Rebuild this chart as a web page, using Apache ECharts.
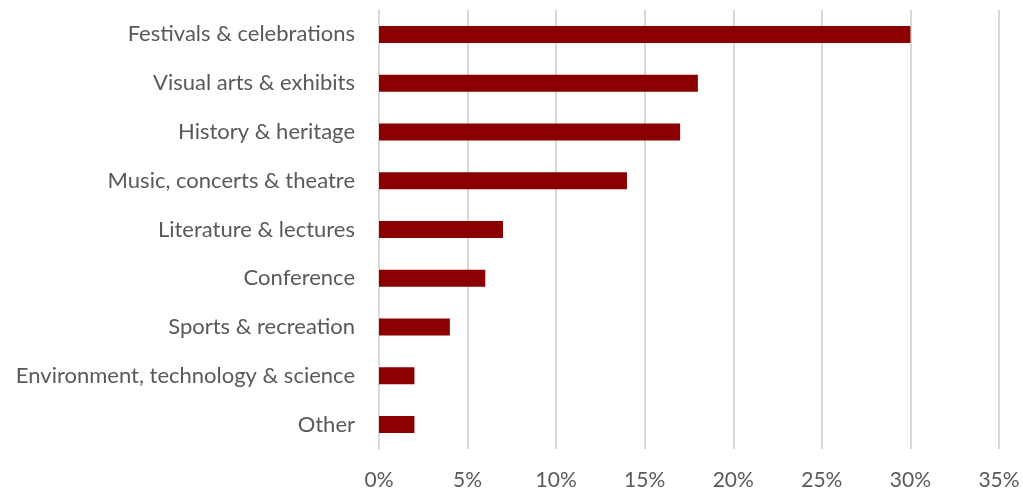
<!DOCTYPE html>
<html><head><meta charset="utf-8">
<script src="https://cdn.jsdelivr.net/npm/echarts@6/dist/echarts.min.js"></script>
<style>html,body{margin:0;padding:0;background:#fff}#c{width:1023px;height:491px}</style>
</head><body><div id="c"></div>
<script>
const categories = ["Festivals & celebrations","Visual arts & exhibits","History & heritage","Music, concerts & theatre","Literature & lectures","Conference","Sports & recreation","Environment, technology & science","Other"];
const values = [30,18,17,14,7,6,4,2,2];
const xTicks = [0,5,10,15,20,25,30,35];
const chart = echarts.init(document.getElementById('c'));
chart.setOption({
  animation:false,
  grid:{left:379,right:24,top:10,bottom:42},
  xAxis:{type:'value',min:0,max:35,interval:5,
    axisLine:{show:false},axisTick:{show:false},
    splitLine:{lineStyle:{color:'#d9d9d9',width:2}},
    axisLabel:{formatter:v=>v+'%',color:'#595959',fontSize:21,fontFamily:'Lato',margin:21}},
  yAxis:{type:'category',inverse:true,data:categories,
    axisLine:{show:true,lineStyle:{color:'#d9d9d9',width:2}},axisTick:{show:false},
    axisLabel:{color:'#595959',fontSize:22,fontFamily:'Lato',margin:24}},
  series:[{type:'bar',data:values,barWidth:17,itemStyle:{color:'#8b0000'}}]
});
</script></body></html>
